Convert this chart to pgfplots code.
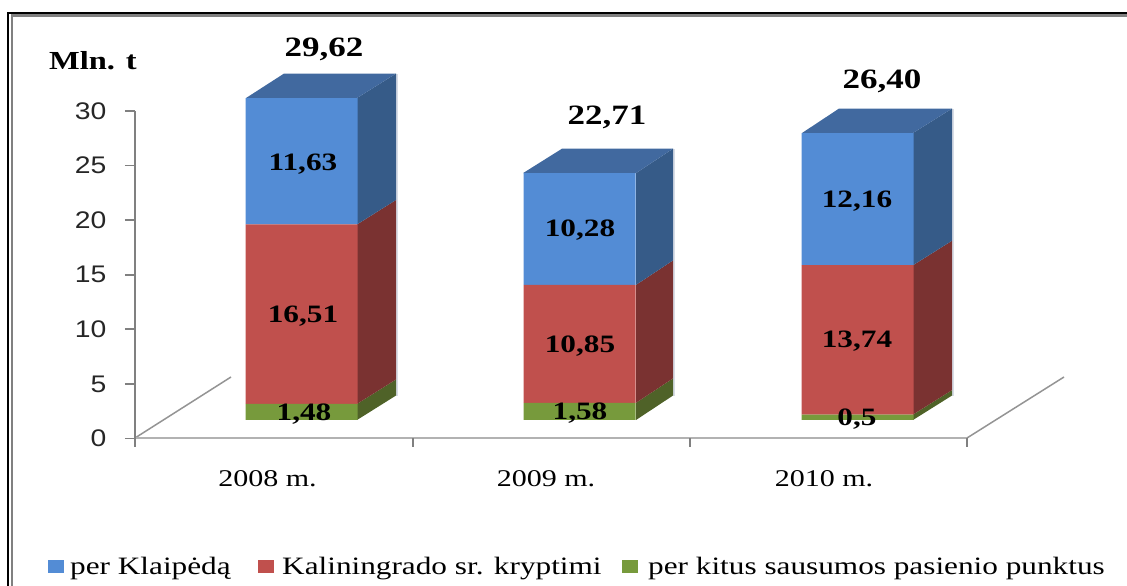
\documentclass[border=0pt]{standalone}
\usepackage{fontspec}
\usepackage{pgfplots}
\usepackage{pgfplotstable}
\pgfplotsset{compat=1.18}
\setmainfont[FakeStretch=1.25]{Liberation Serif}
\newfontfamily\ticksans[FakeStretch=1.18]{Liberation Sans}
\definecolor{cblue}{HTML}{538CD5}
\definecolor{cred}{HTML}{C0504D}
\definecolor{cgreen}{HTML}{779A3C}
\definecolor{sblue}{HTML}{365B88}
\definecolor{tblue}{HTML}{41699F}
\definecolor{sred}{HTML}{7A3231}
\definecolor{sgreen}{HTML}{4F6228}
\definecolor{pale}{HTML}{D8DDE6}
\pgfplotstableread{
x green red blue
301.5 1.48 16.51 11.63
579.5 1.58 10.85 10.28
857.5 0.50 13.74 12.16
}\bars
\pgfplotsset{
  pageaxis/.style={at={(0bp,0bp)},anchor=south west,scale only axis,hide axis,clip=false,
    xmin=0,xmax=1127,ymin=0,ymax=586,width=1127bp,height=586bp},
  valaxis/.style={at={(0bp,166bp)},anchor=south west,scale only axis,hide axis,clip=false,
    xmin=0,xmax=1127,ymin=0,ymax=38,width=1127bp,height=413.06bp},
}
\newcommand{\lab}[3]{\node[font=\fontsize{25bp}{27bp}\selectfont\bfseries,inner sep=0pt] at (axis cs:#1,#2-1.5) {#3};}
\newcommand{\toplab}[3]{\node[font=\fontsize{28bp}{30bp}\selectfont\bfseries,inner sep=0pt] at (axis cs:#1,#2-2) {#3};}
\begin{document}
\begin{tikzpicture}
\path[use as bounding box] (0bp,0bp) rectangle (1127bp,586bp);
% frame and floor
\begin{axis}[pageaxis]
\draw[black,line width=2bp] (8.3,0) -- (8.3,572.7) -- (1127,572.7);
\draw[black!50,line width=2.6bp] (12,0) -- (12,570.5) -- (1127,570.5);
\addplot[draw=black!42,line width=1.5bp] coordinates {(135,148) (231,209)};
\addplot[draw=black!42,line width=1.5bp] coordinates {(967,148) (1064,209)};
\end{axis}
% value axis
\begin{axis}[at={(135bp,147.5bp)},anchor=south west,scale only axis,clip=false,
  width=832bp,height=327.5bp,xmin=135,xmax=967,ymin=0,ymax=30,
  axis x line=bottom,axis y line=left,
  axis line style={-,draw=none},
  ytick={0,5,...,30},
  xtick={267.5,546,824},xticklabels={2008 m.,2009 m.,2010 m.},
  tick align=outside,
  major tick length=10bp,
  xtick style={draw=none},
  ytick style={draw=none},
  /pgf/number format/assume math mode=true,
  yticklabel style={font=\ticksans\fontsize{24bp}{26bp}\selectfont,text=black!85,xshift=-15bp},
  xticklabel style={font=\fontsize{24bp}{26bp}\selectfont,yshift=-19bp},
]
\addplot[draw=black!30,line width=2bp] coordinates {(135,0) (967,0)};
\addplot[draw=black!50,line width=2.2bp] coordinates {(135,0) (135,30)};
\foreach \v in {0,5,...,30} {
  \edef\temp{\noexpand\draw[black!50,line width=1.8bp] (axis cs:125,\v) -- (axis cs:135,\v);}
  \temp
}
\foreach \v in {135,413,690,967} {
  \edef\temp{\noexpand\draw[black!50,line width=2.6bp] (axis cs:\v,0) -- (axis cs:\v,-0.8);}
  \temp
}
\end{axis}
% 3D side and top faces
\begin{axis}[valaxis]
\addplot[draw=pale,line width=1.2bp] coordinates {(397,2.25) (397,31.87)};
\addplot[draw=pale,line width=1.2bp] coordinates {(674,2.25) (674,24.96)};
\addplot[draw=pale,line width=1.2bp] coordinates {(953,2.25) (953,28.65)};
\addplot[fill=sgreen,draw=none] coordinates {(357,0) (396,2.25) (396,3.73) (357,1.48)} -- cycle;
\addplot[fill=sred,draw=none] coordinates {(357,1.48) (396,3.73) (396,20.24) (357,17.99)} -- cycle;
\addplot[fill=sblue,draw=none] coordinates {(357,17.99) (396,20.24) (396,31.87) (357,29.62)} -- cycle;
\addplot[fill=tblue,draw=none] coordinates {(246,29.62) (284,31.87) (396,31.87) (357,29.62)} -- cycle;
\addplot[fill=sgreen,draw=none] coordinates {(636,0) (673,2.25) (673,3.83) (636,1.58)} -- cycle;
\addplot[fill=sred,draw=none] coordinates {(636,1.58) (673,3.83) (673,14.68) (636,12.43)} -- cycle;
\addplot[fill=sblue,draw=none] coordinates {(636,12.43) (673,14.68) (673,24.96) (636,22.71)} -- cycle;
\addplot[fill=tblue,draw=none] coordinates {(523,22.71) (562,24.96) (673,24.96) (636,22.71)} -- cycle;
\addplot[fill=sgreen,draw=none] coordinates {(913,0) (952,2.25) (952,2.75) (913,0.5)} -- cycle;
\addplot[fill=sred,draw=none] coordinates {(913,0.5) (952,2.75) (952,16.49) (913,14.24)} -- cycle;
\addplot[fill=sblue,draw=none] coordinates {(913,14.24) (952,16.49) (952,28.65) (913,26.40)} -- cycle;
\addplot[fill=tblue,draw=none] coordinates {(802,26.40) (839,28.65) (952,28.65) (913,26.40)} -- cycle;
\end{axis}
% front faces
\begin{axis}[valaxis,ybar stacked,bar width=112]
\addplot[fill=cgreen,draw=none] table[x=x,y=green] {\bars};
\addplot[fill=cred,draw=none] table[x=x,y=red] {\bars};
\addplot[fill=cblue,draw=none] table[x=x,y=blue] {\bars};
\end{axis}
% texts and legend
\begin{axis}[pageaxis]
\toplab{324}{539}{29,62}
\toplab{607}{471}{22,71}
\toplab{882}{507}{26,40}
\lab{303}{423}{11,63}
\lab{303}{271}{16,51}
\lab{304}{173}{1,48}
\lab{580}{357}{10,28}
\lab{580}{241}{10,85}
\lab{580}{174}{1,58}
\lab{857}{386}{12,16}
\lab{857}{246}{13,74}
\lab{857}{168}{0,5}
\node[font=\fontsize{26bp}{28bp}\selectfont\bfseries,anchor=base west,inner sep=0pt] at (axis cs:49,516) {Mln. t};
\fill[cblue] (axis cs:48,13) rectangle (axis cs:64,26);
\fill[cred] (axis cs:258,13) rectangle (axis cs:274,26);
\fill[cgreen] (axis cs:622,13) rectangle (axis cs:638,26);
\node[font=\fontsize{25bp}{27bp}\selectfont,anchor=base west,inner sep=0pt] at (axis cs:70,12) {per Klaipėdą};
\node[font=\fontsize{25bp}{27bp}\selectfont,anchor=base west,inner sep=0pt] at (axis cs:282,12) {Kaliningrado sr. kryptimi};
\node[font=\fontsize{25bp}{27bp}\selectfont,anchor=base west,inner sep=0pt] at (axis cs:648,12) {per kitus sausumos pasienio punktus};
\end{axis}
\end{tikzpicture}
\end{document}
